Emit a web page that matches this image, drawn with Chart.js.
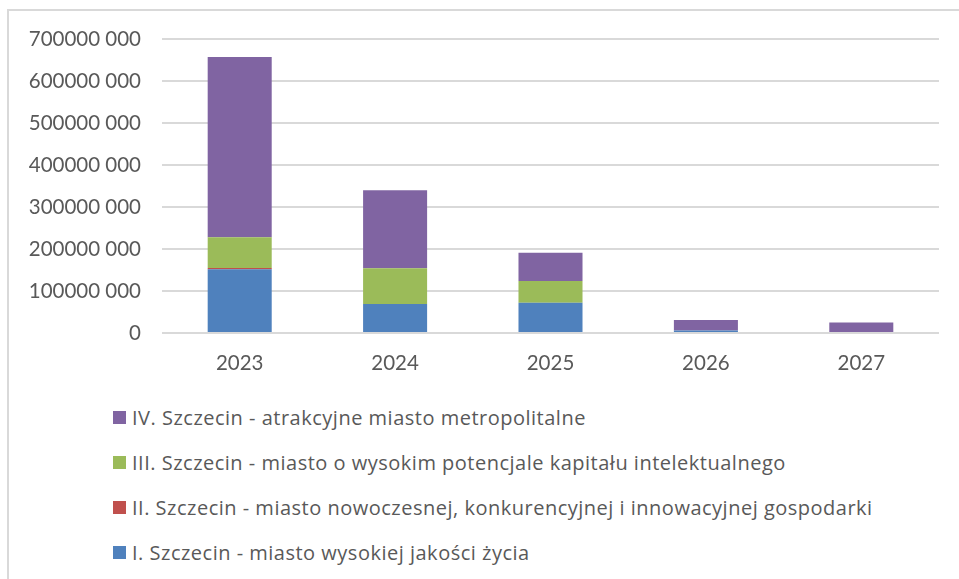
<!DOCTYPE html>
<html>
<head>
<meta charset="utf-8">
<script src="https://cdn.jsdelivr.net/npm/chart.js@4/dist/chart.umd.min.js"></script>
<style>
  html, body { margin: 0; padding: 0; background: #fff; width: 959px; height: 579px; overflow: hidden; }
  #frame { position: absolute; left: 7px; top: 9px; width: 980px; height: 600px;
           border-left: 2px solid #d9d9d9; border-top: 2px solid #d9d9d9; }
  #c { position: absolute; left: 0; top: 0; }
  #legend { position: absolute; left: 113px; top: 0; font-family: 'Open Sans', sans-serif; font-size: 20px; letter-spacing: 0.5px; color: #595959; }
  .item { position: absolute; left: 0; white-space: nowrap; display: flex; align-items: center; height: 28px; }
  .box { width: 13px; height: 13px; margin-right: 6px; display: inline-block; }
</style>
</head>
<body>
<div id="frame"></div>
<canvas id="c" width="959" height="390"></canvas>
<div id="legend"></div>
<script>
const years = ['2023', '2024', '2025', '2026', '2027'];
const seriesNames = [
  'I. Szczecin - miasto wysokiej jakości życia',
  'II. Szczecin - miasto nowoczesnej, konkurencyjnej i innowacyjnej gospodarki',
  'III. Szczecin - miasto o wysokim potencjale kapitału intelektualnego',
  'IV. Szczecin - atrakcyjne miasto metropolitalne'
];
const valuesI   = [152000000, 69000000, 72000000, 6000000, 0];
const valuesII  = [3000000, 0, 0, 0, 0];
const valuesIII = [73000000, 85000000, 52000000, 0, 0];
const valuesIV  = [429000000, 186000000, 67000000, 25000000, 25000000];
const yTickLabels = ['0', '100000 000', '200000 000', '300000 000', '400000 000', '500000 000', '600000 000', '700000 000'];

const colors = ['#4F81BD', '#C0504D', '#9BBB59', '#8064A2'];
const allValues = [valuesI, valuesII, valuesIII, valuesIV];

const datasets = allValues.map((vals, i) => ({
  label: seriesNames[i],
  data: vals,
  backgroundColor: colors[i],
  borderWidth: 0,
  categoryPercentage: 1.0,
  barPercentage: 0.412
}));

const textColor = '#595959';
const font = { family: 'Lato, sans-serif', size: 20.5 };

new Chart(document.getElementById('c'), {
  type: 'bar',
  data: { labels: years, datasets },
  options: {
    responsive: false,
    animation: false,
    layout: { padding: { top: 39, right: 20, left: 0, bottom: 0 } },
    plugins: { legend: { display: false }, tooltip: { enabled: false } },
    scales: {
      x: {
        stacked: true,
        grid: { display: false, drawTicks: false },
        border: { display: false },
        ticks: { color: textColor, font, padding: 18 },
        afterFit: s => { s.height = 57; }
      },
      y: {
        stacked: true,
        min: 0, max: 700000000,
        grid: { color: '#d9d9d9', lineWidth: 2, drawTicks: false },
        border: { display: false },
        ticks: { stepSize: 100000000, color: textColor, font, padding: 21,
                 callback: (v, i) => yTickLabels[i] },
        afterFit: s => { s.width = 162; }
      }
    }
  }
});

// Legend (reversed order, one per line)
const legend = document.getElementById('legend');
const rowCenters = [417, 462, 507, 552];
for (let k = 0; k < seriesNames.length; k++) {
  const idx = seriesNames.length - 1 - k;
  const item = document.createElement('div');
  item.className = 'item';
  item.style.top = (rowCenters[k] - 14) + 'px';
  const box = document.createElement('span');
  box.className = 'box';
  box.style.background = colors[idx];
  const txt = document.createElement('span');
  txt.textContent = seriesNames[idx];
  item.appendChild(box);
  item.appendChild(txt);
  legend.appendChild(item);
}
</script>
</body>
</html>
